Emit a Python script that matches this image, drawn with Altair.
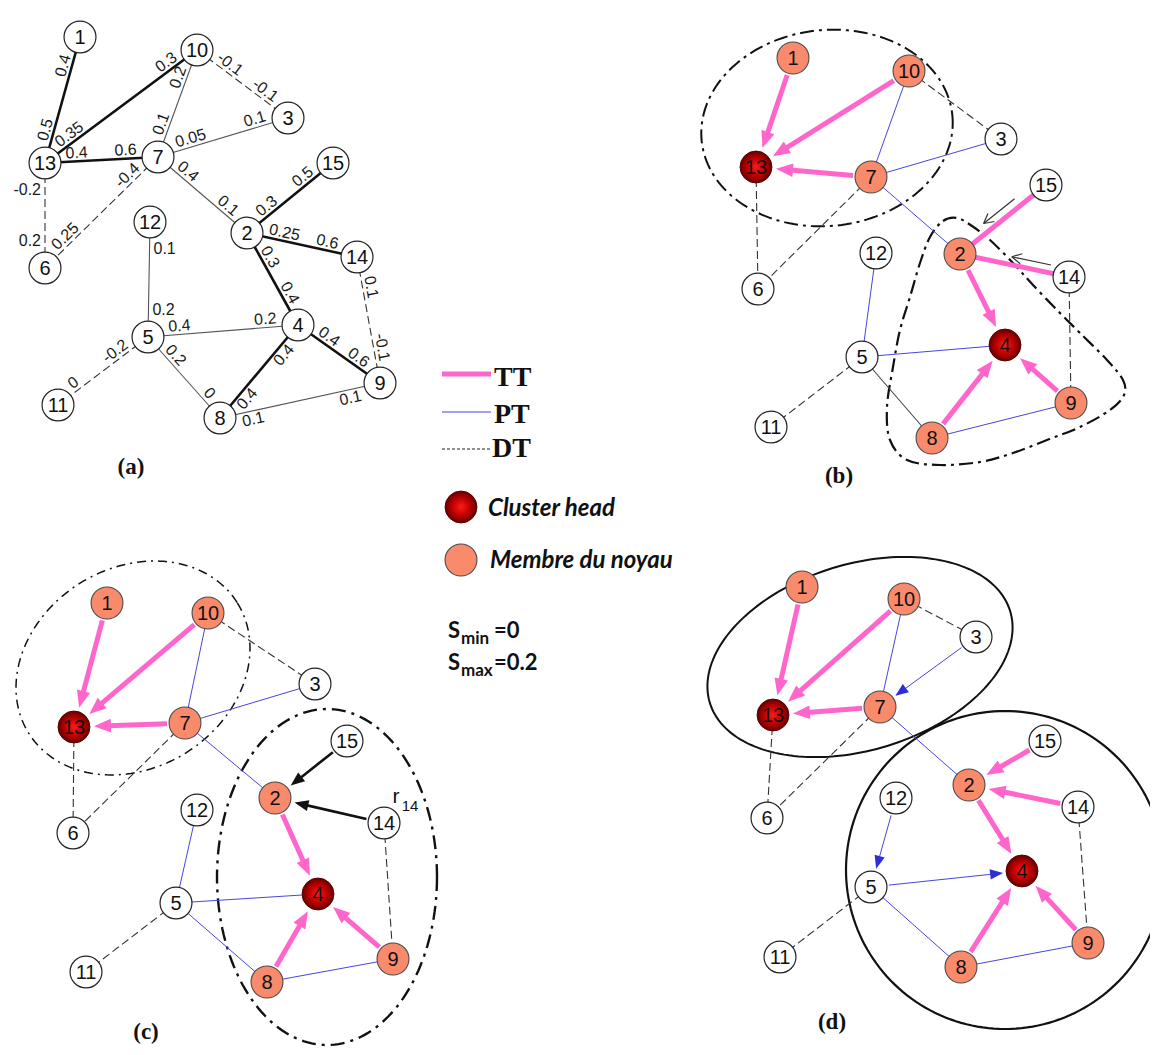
import math
import numpy as np
import pandas as pd
import altair as alt

# ---------------- data ----------------
NODE_IDS = [str(i) for i in range(1, 16)]

# node centres per panel (image pixels), order of NODE_IDS
A_X = [80, 247, 288, 298, 148, 45, 158, 220, 380, 197, 58, 150, 45, 357, 333]
A_Y = [37, 233, 118, 325, 337, 268, 157, 418, 383, 50, 405, 222, 163, 257, 163]
B_X = [793, 960, 1001, 1005, 862, 758, 871, 932, 1071, 909, 771, 876, 756, 1069, 1046]
B_Y = [58, 254, 139, 345, 357, 289, 177, 438, 403, 71, 427, 253, 167, 277, 185]
C_X = [107, 275, 315, 318, 176, 73, 185, 267, 393, 208, 86, 197, 74, 384, 347]
C_Y = [603, 798, 684, 894, 903, 833, 723, 982, 959, 613, 972, 810, 727, 823, 741]
D_X = [802, 969, 976, 1022, 871, 767, 880, 961, 1088, 904, 780, 896, 773, 1078, 1045]
D_Y = [587, 785, 637, 871, 887, 818, 707, 967, 943, 599, 957, 798, 715, 807, 741]

HEADS = ["13", "4"]
MEMBERS = ["1", "10", "7", "2", "8", "9"]

# panel (a): (from, to, style, weight near from, weight near to, side near from, side near to)
A_EDGES = [
    ("1", "13", "thick", "0.4", "0.5", 1, 1),
    ("10", "13", "thick", "0.3", "0.35", 1, 1),
    ("10", "7", "thin", "0.2", "0.1", 1, 1),
    ("10", "3", "dash", "-0.1", "-0.1", 1, 1),
    ("7", "3", "thin", "0.05", "0.1", 1, 1),
    ("13", "7", "thick", "0.4", "0.6", 1, 1),
    ("7", "6", "dash", "-0.4", "0.25", 1, 1),
    ("13", "6", "dash", "-0.2", "0.2", 1, 1),
    ("7", "2", "thin", "0.4", "0.1", 1, 1),
    ("2", "15", "thick", "0.3", "0.5", 1, 1),
    ("2", "14", "thick", "0.25", "0.6", 1, 1),
    ("2", "4", "thick", "0.3", "0.4", 1, 1),
    ("14", "9", "dash", "0.1", "-0.1", 1, 1),
    ("12", "5", "thin", "0.1", "0.2", -1, -1),
    ("5", "4", "thin", "0.4", "0.2", 1, 1),
    ("5", "8", "thin", "0.2", "0", 1, 1),
    ("5", "11", "dash", "-0.2", "0", 1, 1),
    ("4", "8", "thick", "0.4", "0.4", -1, -1),
    ("4", "9", "thick", "0.4", "0.6", 1, 1),
    ("8", "9", "thin", "0.1", "0.1", -1, -1),
]

DT_EDGES = [("10", "3"), ("13", "6"), ("7", "6"), ("5", "11"), ("14", "9")]
TT_ARROWS = [("1", "13"), ("10", "13"), ("7", "13"), ("2", "4"), ("8", "4"), ("9", "4")]

B_TT_PLAIN = [("15", "2"), ("14", "2")]
B_PT = [("10", "7"), ("7", "3"), ("7", "2"), ("12", "5"), ("5", "4"), ("8", "9")]
B_BLACK = [("5", "8")]
B_HINTS = [("15", "2", 0.30, 0.66, 9), ("14", "2", 0.18, 0.54, 8)]

C_BLACK_ARROWS = [("15", "2"), ("14", "2")]
C_PT = [("10", "7"), ("7", "3"), ("7", "2"), ("12", "5"), ("5", "4"), ("5", "8"), ("8", "9")]

D_TT_EXTRA = [("15", "2"), ("14", "2")]
D_PT = [("10", "7"), ("7", "2"), ("5", "8"), ("8", "9")]
D_PT_ARROWS = [("3", "7"), ("12", "5"), ("5", "4")]

# cluster outlines: (centre x, centre y, semi-axis a, semi-axis b, rotation deg)
ELLIPSES = {
    "b1": (827, 128, 126, 98, -6),
    "c1": (133, 668, 123, 100, -32),
    "c2": (327, 877, 110, 168, 0),
    "d1": (860, 657, 157, 93, -17),
    "d2": (1005, 870, 159, 159, 0),
}
B_HULL_X = [930, 943, 957, 972, 990, 1013, 1033, 1057, 1080, 1107, 1123, 1124, 1110, 1080, 1047, 1013, 980, 940, 907, 890, 887, 893, 900, 910, 920]
B_HULL_Y = [237, 221, 218, 226, 240, 263, 285, 310, 333, 360, 380, 395, 410, 427, 440, 453, 462, 465, 460, 440, 407, 367, 330, 297, 263]

PANEL_LABELS = ["(a)", "(b)", "(c)", "(d)"]
PANEL_LABEL_X = [131, 839, 146, 832]
PANEL_LABEL_Y = [474, 483, 1039, 1029]

LEGEND_LINES = ["TT", "PT", "DT"]
LEGEND_LINE_Y = [374, 412, 449]
LEGEND_TEXT_Y = [386, 423, 457]
LEGEND_NODES = ["Cluster head", "Membre du noyau"]
LEGEND_NODE_Y = [507, 560]
LEGEND_NODE_TEXT_Y = [516, 568]

# ---------------- styling ----------------
PINK = "#ff66cc"
BLUE = "#4646dc"
SALMON = "#fa8a6c"
R = 18.0
S_NODE = math.pi * R * R
ARROW_PATH = "M0,-1L-0.8,1L0.8,1Z"


def P(xs, ys):
    return {n: (float(x), float(y)) for n, x, y in zip(NODE_IDS, xs, ys)}


PA, PB, PC, PD = P(A_X, A_Y), P(B_X, B_Y), P(C_X, C_Y), P(D_X, D_Y)


def unit(p, q):
    dx, dy = q[0] - p[0], q[1] - p[1]
    L = math.hypot(dx, dy)
    return dx / L, dy / L, L


def up_normal(ux, uy):
    n = (uy, -ux)
    if n[1] > 1e-9 or (abs(n[1]) <= 1e-9 and n[0] > 0):
        n = (-uy, ux)
    return n


segs = {}
heads = {}


def add_seg(g, x, y, x2, y2):
    segs.setdefault(g, []).append(dict(x=x, y=y, x2=x2, y2=y2))


def add_line(Pm, s, t, g):
    add_seg(g, Pm[s][0], Pm[s][1], Pm[t][0], Pm[t][1])


def add_arrow(Pm, s, t, g, head_len, gap=2.0):
    ux, uy, L = unit(Pm[s], Pm[t])
    sx, sy = Pm[s][0] + ux * R, Pm[s][1] + uy * R
    tx, ty = Pm[t][0] - ux * (R + gap), Pm[t][1] - uy * (R + gap)
    ex, ey = tx - ux * head_len * 0.85, ty - uy * head_len * 0.85
    add_seg(g, sx, sy, ex, ey)
    cx, cy = tx - ux * head_len / 2, ty - uy * head_len / 2
    ang = (math.degrees(math.atan2(ux, -uy)) + 360) % 360
    heads.setdefault(g, []).append(dict(x=cx, y=cy, angle=ang))


# panel (a)
weights = []


def text_w(s, fs=16):
    return sum((0.556 if c.isdigit() else 0.278 if c == "." else 0.333) for c in s) * fs


for a, b, style, la, lb, sa, sb in A_EDGES:
    add_line(PA, a, b, "a_" + style)
    for p, q, lab, side in ((PA[a], PA[b], la, sa), (PA[b], PA[a], lb, sb)):
        ux, uy, L = unit(p, q)
        nx, ny = up_normal(ux, uy)
        th = math.degrees(math.atan2(uy, ux))
        w = text_w(lab)
        if abs(abs(th) - 90) < 6:
            d, off, th = R + 9, w / 2 + 4, 0.0
        else:
            d, off = R + 3 + w / 2, 8.5
            if th > 90:
                th -= 180
            elif th < -90:
                th += 180
        weights.append(dict(x=p[0] + ux * d + nx * side * off,
                            y=p[1] + uy * d + ny * side * off,
                            t=lab, angle=(th + 360) % 360))

# panel (b)
for s, t in B_PT:
    add_line(PB, s, t, "pt")
for s, t in B_BLACK:
    add_line(PB, s, t, "blk")
for s, t in DT_EDGES:
    add_line(PB, s, t, "dt")
for s, t in B_TT_PLAIN:
    add_line(PB, s, t, "tt")
for s, t in TT_ARROWS:
    add_arrow(PB, s, t, "tt", 17)
for s, t, t0, t1, off in B_HINTS:
    ux, uy, L = unit(PB[s], PB[t])
    nx, ny = up_normal(ux, uy)
    x0 = PB[s][0] + ux * L * t0 + nx * off
    y0 = PB[s][1] + uy * L * t0 + ny * off
    x1 = PB[s][0] + ux * L * t1 + nx * off
    y1 = PB[s][1] + uy * L * t1 + ny * off
    add_seg("open", x0, y0, x1, y1)
    for sg in (1, -1):
        a = math.radians(28 * sg)
        vx, vy = -ux, -uy
        bx = vx * math.cos(a) - vy * math.sin(a)
        by = vx * math.sin(a) + vy * math.cos(a)
        add_seg("open", x1, y1, x1 + bx * 11, y1 + by * 11)

# panel (c)
for s, t in C_PT:
    add_line(PC, s, t, "pt")
for s, t in DT_EDGES:
    add_line(PC, s, t, "dt")
for s, t in TT_ARROWS:
    add_arrow(PC, s, t, "tt", 17)
for s, t in C_BLACK_ARROWS:
    add_arrow(PC, s, t, "barrow", 14)

# panel (d)
for s, t in D_PT:
    add_line(PD, s, t, "pt")
for s, t in DT_EDGES:
    add_line(PD, s, t, "dt")
for s, t in TT_ARROWS + D_TT_EXTRA:
    add_arrow(PD, s, t, "tt", 17)
for s, t in D_PT_ARROWS:
    add_arrow(PD, s, t, "pta", 13, gap=1.0)

# legend lines
for name, ly in zip(LEGEND_LINES, LEGEND_LINE_Y):
    add_seg("lg_" + name, 442, ly, 491, ly)

LINE_STYLES = {
    "a_thick": dict(color="#111111", strokeWidth=2.6),
    "a_thin": dict(color="#555555", strokeWidth=1.1),
    "a_dash": dict(color="#333333", strokeWidth=1.1, strokeDash=[8, 4]),
    "pt": dict(color=BLUE, strokeWidth=1.0),
    "pta": dict(color=BLUE, strokeWidth=1.0),
    "blk": dict(color="#444444", strokeWidth=1.1),
    "dt": dict(color="#333333", strokeWidth=1.1, strokeDash=[8, 4]),
    "tt": dict(color=PINK, strokeWidth=5),
    "barrow": dict(color="#111111", strokeWidth=2.6),
    "open": dict(color="#333333", strokeWidth=1.2),
    "lg_TT": dict(color=PINK, strokeWidth=5),
    "lg_PT": dict(color=BLUE, strokeWidth=1.2),
    "lg_DT": dict(color="#222222", strokeWidth=1.1, strokeDash=[3, 2]),
}
HEAD_STYLES = {
    "tt": dict(color=PINK, size=17 * 17),
    "barrow": dict(color="#111111", size=14 * 14),
    "pta": dict(color="#2e2ed8", size=13 * 13),
}
ELLIPSE_STYLES = {
    "b1": dict(color="#111111", strokeWidth=2.0, strokeDash=[14, 5, 3, 5]),
    "b2": dict(color="#111111", strokeWidth=2.2, strokeDash=[14, 5, 3, 5]),
    "c1": dict(color="#111111", strokeWidth=1.5, strokeDash=[9, 5, 2, 5]),
    "c2": dict(color="#111111", strokeWidth=2.4, strokeDash=[14, 6, 3, 6]),
    "d1": dict(color="#111111", strokeWidth=2.0),
    "d2": dict(color="#111111", strokeWidth=2.2),
}

XS = alt.Scale(domain=[8, 1150], nice=False, zero=False)
YS = alt.Scale(domain=[8, 1047], nice=False, zero=False, reverse=True)
X = alt.X("x:Q", scale=XS, axis=None)
Y = alt.Y("y:Q", scale=YS, axis=None)

layers = []

# cluster outlines
for key, (cx, cy, a, b, rot) in ELLIPSES.items():
    tt = np.linspace(0, 2 * np.pi, 181)
    ph = math.radians(rot)
    ex = cx + a * np.cos(tt) * math.cos(ph) - b * np.sin(tt) * math.sin(ph)
    ey = cy + a * np.cos(tt) * math.sin(ph) + b * np.sin(tt) * math.cos(ph)
    df = pd.DataFrame(dict(x=ex, y=ey, o=np.arange(len(tt))))
    layers.append(alt.Chart(df).mark_line(**ELLIPSE_STYLES[key]).encode(
        x=X, y=Y, order=alt.Order("o:Q")))
hull = pd.DataFrame(dict(x=B_HULL_X, y=B_HULL_Y, o=list(range(len(B_HULL_X)))))
layers.append(alt.Chart(hull).mark_line(interpolate="cardinal-closed", **ELLIPSE_STYLES["b2"]).encode(
    x=X, y=Y, order=alt.Order("o:Q")))

# edges
for g in ["a_dash", "a_thin", "a_thick", "dt", "blk", "pt", "pta", "open", "barrow", "tt",
          "lg_TT", "lg_PT", "lg_DT"]:
    if g in segs:
        layers.append(alt.Chart(pd.DataFrame(segs[g])).mark_rule(**LINE_STYLES[g]).encode(
            x=X, y=Y, x2="x2:Q", y2="y2:Q"))

# arrow heads
for g, st in HEAD_STYLES.items():
    if g in heads:
        layers.append(alt.Chart(pd.DataFrame(heads[g])).mark_point(
            shape=ARROW_PATH, filled=True, opacity=1, strokeWidth=0, **st).encode(
            x=X, y=Y, angle=alt.Angle("angle:Q", scale=None)))

# nodes
node_rows = []
for panel, Pm in (("a", PA), ("b", PB), ("c", PC), ("d", PD)):
    for n in NODE_IDS:
        kind = "white"
        if panel != "a":
            kind = "head" if n in HEADS else ("member" if n in MEMBERS else "white")
        node_rows.append(dict(x=Pm[n][0], y=Pm[n][1], t=n, kind=kind))
nodes = pd.DataFrame(node_rows)
legend_nodes = pd.DataFrame(dict(x=[461, 461], y=LEGEND_NODE_Y, t=LEGEND_NODES, kind=["head", "member"]))
all_nodes = pd.concat([nodes, legend_nodes], ignore_index=True)

GRAD = alt.RadialGradient(
    gradient="radial",
    stops=[alt.GradientStop(offset=0, color="#ff1a1a"),
           alt.GradientStop(offset=0.55, color="#c00000"),
           alt.GradientStop(offset=1, color="#650000")],
)

layers.append(alt.Chart(all_nodes[all_nodes.kind == "white"]).mark_point(
    shape="circle", filled=True, opacity=1, size=S_NODE, fill="white",
    stroke="#222222", strokeWidth=1.2).encode(x=X, y=Y))
layers.append(alt.Chart(all_nodes[all_nodes.kind == "member"]).mark_point(
    shape="circle", filled=True, opacity=1, size=S_NODE, fill=SALMON,
    stroke="#4a4a4a", strokeWidth=1.1).encode(x=X, y=Y))
layers.append(alt.Chart(all_nodes[all_nodes.kind == "head"]).mark_point(
    shape="circle", filled=True, opacity=1, size=S_NODE, fill=GRAD,
    stroke="#5a0000", strokeWidth=1.0).encode(x=X, y=Y))

# node numbers
layers.append(alt.Chart(nodes).mark_text(
    font="Liberation Sans", fontSize=20, color="#111111", align="center", baseline="middle", dy=1).encode(
    x=X, y=Y, text="t:N"))

# edge weights (a)
layers.append(alt.Chart(pd.DataFrame(weights)).mark_text(
    font="Liberation Sans", fontSize=16, color="#1a1a1a", align="center", baseline="middle").encode(
    x=X, y=Y, text="t:N", angle=alt.Angle("angle:Q", scale=None)))

# r14 annotation in (c)
r14 = pd.DataFrame(dict(x=[PC["14"][0] + 12, PC["14"][0] + 26], y=[PC["14"][1] - 26, PC["14"][1] - 17],
                        t=["r", "14"], fs=[21, 15]))
for fs in (21, 15):
    layers.append(alt.Chart(r14[r14.fs == fs]).mark_text(
        font="Liberation Sans", fontSize=fs, color="#111111", align="center", baseline="middle").encode(
        x=X, y=Y, text="t:N"))

# panel labels
layers.append(alt.Chart(pd.DataFrame(dict(x=PANEL_LABEL_X, y=PANEL_LABEL_Y, t=PANEL_LABELS))).mark_text(
    font="Liberation Serif", fontSize=23, fontWeight="bold", color="#111111", align="center",
    baseline="alphabetic").encode(x=X, y=Y, text="t:N"))

# legend texts
layers.append(alt.Chart(pd.DataFrame(dict(x=[494, 494, 492], y=LEGEND_TEXT_Y, t=LEGEND_LINES))).mark_text(
    font="Liberation Serif", fontSize=28, fontWeight="bold", color="#111111", align="left",
    baseline="alphabetic").encode(x=X, y=Y, text="t:N"))
layers.append(alt.Chart(pd.DataFrame(dict(x=[488, 490], y=LEGEND_NODE_TEXT_Y, t=LEGEND_NODES))).mark_text(
    font="Lato", fontSize=24, fontWeight="bold", fontStyle="italic", color="#111111", align="left",
    baseline="alphabetic").encode(x=X, y=Y, text="t:N"))

# S_min / S_max
S_MAIN = pd.DataFrame(dict(x=[448, 494, 448, 494], y=[638, 638, 670, 670], t=["S", "=0", "S", "=0.2"]))
S_SUB = pd.DataFrame(dict(x=[461, 461], y=[644, 676], t=["min", "max"]))
layers.append(alt.Chart(S_MAIN).mark_text(
    font="Lato", fontSize=22, fontWeight="bold", color="#111111", align="left", baseline="alphabetic").encode(
    x=X, y=Y, text="t:N"))
layers.append(alt.Chart(S_SUB).mark_text(
    font="Lato", fontSize=17, fontWeight="bold", color="#111111", align="left", baseline="alphabetic").encode(
    x=X, y=Y, text="t:N"))

chart = alt.layer(*layers).properties(
    width=1142, height=1039, padding=0,
    autosize=alt.AutoSizeParams(type="none"), background="white",
).configure_view(stroke=None)

chart.save("out.html", embed_options={"renderer": "svg", "actions": False})
